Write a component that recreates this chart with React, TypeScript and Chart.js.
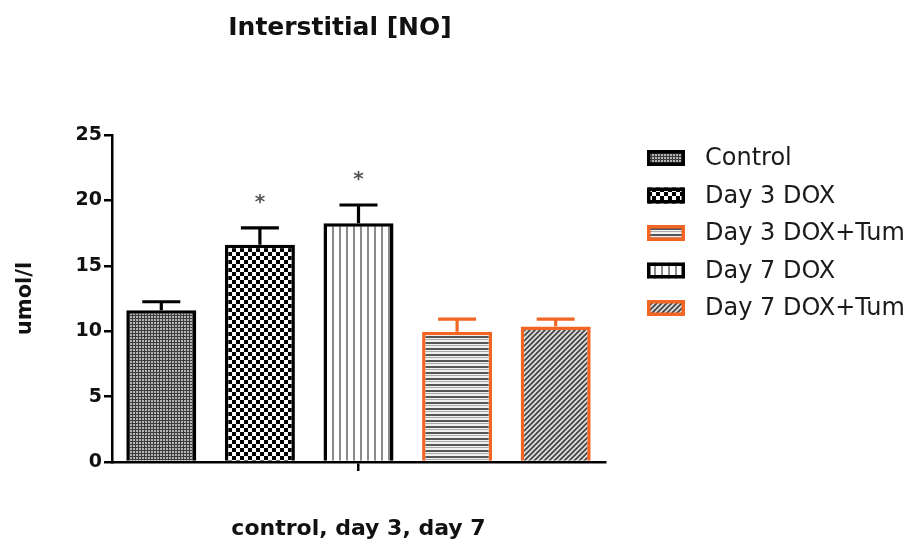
import React, { useEffect, useRef } from "react";
import { Chart, registerables } from "chart.js";

Chart.register(...registerables);

// ---------- data ----------
const chartTitle = "Interstitial [NO]";
const xAxisTitle = "control, day 3, day 7";
const yAxisTitle = "umol/l";
const categories = [""];
const seriesLabels = ["Control", "Day 3 DOX", "Day 7 DOX", "Day 3 DOX+Tum", "Day 7 DOX+Tum"];
const seriesValues = [11.6, 16.6, 18.25, 9.95, 10.35];
const seriesErrors = [0.65, 1.3, 1.4, 0.98, 0.58];
const significant = [false, true, true, false, false];
const legendOrder = ["Control", "Day 3 DOX", "Day 3 DOX+Tum", "Day 7 DOX", "Day 7 DOX+Tum"];
const yMin = 0;
const yMax = 25;
const yStep = 5;

// ---------- styles ----------
const FONT = "'DejaVu Sans', 'Liberation Sans', Arial, sans-serif";
const ORANGE = "rgb(242,101,34)";
const seriesBorder = ["#000", "#000", "#000", ORANGE, ORANGE];
const seriesPattern = ["fine", "checker", "vertical", "horizontal", "diagonal"];

function makePattern(kind: string): CanvasPattern | string {
  const c = document.createElement("canvas");
  const ctx = c.getContext("2d");
  if (!ctx) return "#888";
  if (kind === "fine") {
    c.width = 3; c.height = 3;
    ctx.fillStyle = "#b4b4b4"; ctx.fillRect(0, 0, 3, 3);
    ctx.fillStyle = "#3c3c3c"; ctx.fillRect(0, 0, 3, 1); ctx.fillRect(0, 0, 1, 3);
  } else if (kind === "checker") {
    c.width = 8; c.height = 8;
    ctx.fillStyle = "#fff"; ctx.fillRect(0, 0, 8, 8);
    ctx.fillStyle = "#000"; ctx.fillRect(0, 0, 4, 4); ctx.fillRect(4, 4, 4, 4);
  } else if (kind === "vertical") {
    c.width = 7; c.height = 7;
    ctx.fillStyle = "#fff"; ctx.fillRect(0, 0, 7, 7);
    ctx.fillStyle = "#8a8a8a"; ctx.fillRect(3, 0, 2, 7);
  } else if (kind === "horizontal") {
    c.width = 6; c.height = 6;
    ctx.fillStyle = "#f0f0f0"; ctx.fillRect(0, 0, 6, 6);
    ctx.fillStyle = "#555"; ctx.fillRect(0, 0, 6, 2);
    ctx.fillStyle = "#aaa"; ctx.fillRect(0, 3, 6, 1);
  } else {
    c.width = 5; c.height = 5;
    ctx.fillStyle = "#e0e0e0"; ctx.fillRect(0, 0, 5, 5);
    ctx.strokeStyle = "#444"; ctx.lineWidth = 1.8;
    ctx.beginPath();
    ctx.moveTo(0, 5); ctx.lineTo(5, 0);
    ctx.moveTo(-1, 1); ctx.lineTo(1, -1);
    ctx.moveTo(4, 6); ctx.lineTo(6, 4);
    ctx.stroke();
  }
  const p = ctx.createPattern(c, "repeat");
  return p || "#888";
}

export default function App() {
  const ref = useRef<HTMLCanvasElement | null>(null);

  useEffect(() => {
    if (!ref.current) return;
    const patterns = seriesPattern.map((k) => makePattern(k));

    const errorBars = {
      id: "errorBars",
      afterDatasetsDraw(chart: any) {
        const ctx = chart.ctx;
        const y = chart.scales.y;
        ctx.save();
        seriesValues.forEach((v, i) => {
          const meta = chart.getDatasetMeta(i);
          const bar = meta.data[0];
          if (!bar) return;
          const top = y.getPixelForValue(v + seriesErrors[i]);
          const base = y.getPixelForValue(v);
          ctx.strokeStyle = seriesBorder[i];
          ctx.lineWidth = 3.2;
          ctx.beginPath();
          ctx.moveTo(bar.x, base);
          ctx.lineTo(bar.x, top);
          ctx.moveTo(bar.x - 19, top);
          ctx.lineTo(bar.x + 19, top);
          ctx.stroke();
          if (significant[i]) {
            ctx.fillStyle = "#555";
            ctx.font = `bold 20px ${FONT}`;
            ctx.textAlign = "center";
            ctx.textBaseline = "middle";
            ctx.fillText("*", bar.x, top - 25);
          }
        });
        ctx.restore();
      },
    };

    const titleAndLegend = {
      id: "titleAndLegend",
      afterDraw(chart: any) {
        const ctx = chart.ctx;
        ctx.save();
        ctx.fillStyle = "#111";
        ctx.font = `bold 25px ${FONT}`;
        ctx.textAlign = "center";
        ctx.textBaseline = "middle";
        ctx.fillText(chartTitle, 340, 28);

        legendOrder.forEach((name, k) => {
          const i = seriesLabels.indexOf(name);
          const cy = 158 + k * 37.5;
          const bx = 647, bw = 38, bh = 16;
          ctx.fillStyle = patterns[i];
          ctx.fillRect(bx, cy - bh / 2, bw, bh);
          ctx.strokeStyle = seriesBorder[i];
          ctx.lineWidth = 3.5;
          ctx.strokeRect(bx + 1.75, cy - bh / 2 + 1.75, bw - 3.5, bh - 3.5);
          ctx.fillStyle = "#1a1a1a";
          ctx.font = `24px ${FONT}`;
          ctx.textAlign = "left";
          ctx.textBaseline = "middle";
          ctx.fillText(name, 705, cy + 1);
        });
        ctx.restore();
      },
    };

    const chart = new Chart(ref.current, {
      type: "bar",
      data: {
        labels: categories,
        datasets: seriesLabels.map((label, i) => ({
          label,
          data: [seriesValues[i]],
          backgroundColor: patterns[i] as any,
          borderColor: seriesBorder[i],
          borderWidth: 3.5,
          borderSkipped: "start",
          categoryPercentage: 1,
          barPercentage: 0.71,
        })),
      },
      options: {
        animation: false,
        responsive: true,
        maintainAspectRatio: false,
        layout: { padding: { left: 0, right: 308, top: 135, bottom: 0 } },
        plugins: {
          legend: { display: false },
          title: { display: false },
          tooltip: { enabled: false },
        },
        scales: {
          x: {
            type: "category",
            offset: true,
            grid: {
              display: true,
              offset: false,
              drawOnChartArea: false,
              drawTicks: true,
              tickLength: 9,
              color: "#000",
              lineWidth: 2.5,
            },
            border: { display: true, color: "#000", width: 2.5, z: 1 },
            ticks: { display: true, padding: 0 },
            title: {
              display: true,
              text: xAxisTitle,
              color: "#111",
              font: { family: FONT, size: 22, weight: "bold" },
              padding: { top: 0, bottom: 2 },
            },
            afterFit: (s: any) => { s.height = 82; },
          },
          y: {
            min: yMin,
            max: yMax,
            ticks: {
              stepSize: yStep,
              color: "#111",
              padding: 2,
              font: { family: FONT, size: 19, weight: "bold" },
            },
            grid: {
              display: true,
              drawOnChartArea: false,
              drawTicks: true,
              tickLength: 8,
              color: "#000",
              lineWidth: 2.5,
            },
            border: { display: true, color: "#000", width: 2.5 },
            title: {
              display: true,
              text: yAxisTitle,
              color: "#111",
              font: { family: FONT, size: 21, weight: "bold" },
              padding: { top: 13, bottom: 0 },
            },
            afterFit: (s: any) => { s.width = 112; },
          },
        },
      } as any,
      plugins: [errorBars, titleAndLegend],
    });
    return () => chart.destroy();
  }, []);

  return (
    <div style={{ position: "absolute", left: 0, top: 0, width: 913, height: 544, background: "#fff" }}>
      <canvas ref={ref} />
    </div>
  );
}
